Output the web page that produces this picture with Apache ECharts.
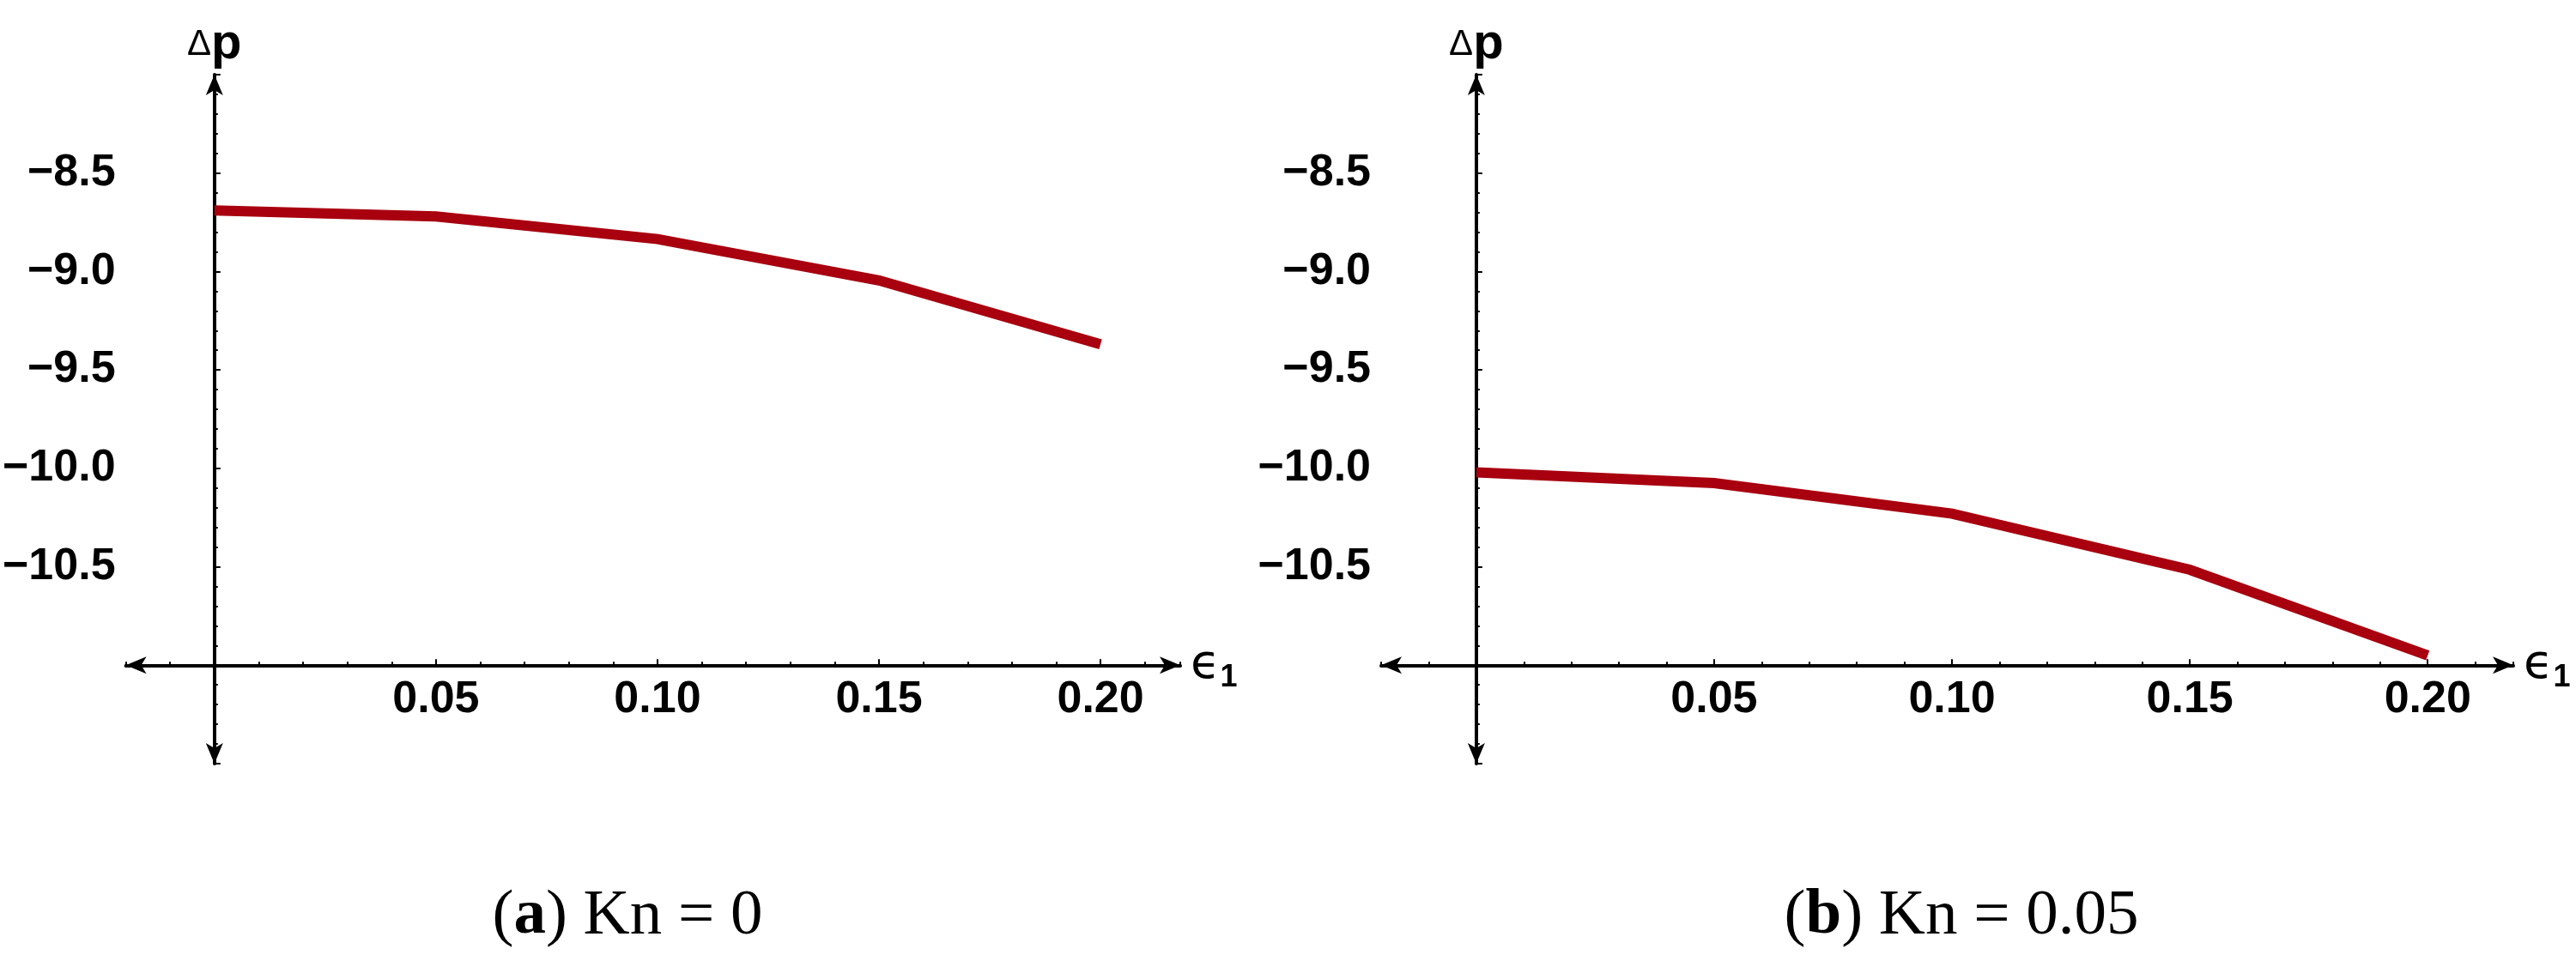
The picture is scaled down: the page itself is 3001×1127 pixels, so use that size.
<!DOCTYPE html>
<html>
<head>
<meta charset="utf-8">
<script src="https://cdn.jsdelivr.net/npm/echarts@6/dist/echarts.min.js"></script>
<style>
html,body{margin:0;padding:0;background:#fff;}
#chart{width:3001px;height:1127px;}
</style>
</head>
<body>
<div id="chart"></div>
<script>
// ---- data ----
const epsilon = [0, 0.05, 0.10, 0.15, 0.20];
const dpKn0 = [-8.69, -8.72, -8.835, -9.045, -9.37];
const dpKn005 = [-10.02, -10.075, -10.23, -10.515, -10.95];
const xTickLabels = [0.05, 0.10, 0.15, 0.20];
const yTickLabels = [-10.5, -10.0, -9.5, -9.0, -8.5];
const captions = [["a", " Kn = 0"], ["b", " Kn = 0.05"]];

// ---- axis ranges ----
const xMin = -0.02, xMax = 0.218;
const yMin = -11.5, yMax = -8.0, yCross = -11.0;

const chart = echarts.init(document.getElementById('chart'), null, {renderer: 'canvas'});

const gridTop = 87, gridH = 803, gridW = 1319;
const gridLefts = [56, 1609];
const xOffset = -gridH * (yCross - yMin) / (yMax - yMin);

const lineColor = '#A8000F';
const sansFont = '"Liberation Sans", Arial, sans-serif';

function fmtY(v) {
  const ok = yTickLabels.some(t => Math.abs(t - v) < 1e-6);
  if (!ok) return '';
  return (v < 0 ? '\u2212' : '') + Math.abs(v).toFixed(1);
}

const grids = [], xAxes = [], yAxes = [], series = [];
[dpKn0, dpKn005].forEach((vals, gi) => {
  grids.push({left: gridLefts[gi], top: gridTop, width: gridW, height: gridH, containLabel: false});
  // main x axis (line, arrows, major ticks, labels)
  xAxes.push({
    type: 'value', gridIndex: gi, position: 'bottom', offset: xOffset,
    min: xMin, max: xMax,
    axisLine: {show: true, onZero: false, symbol: ['arrow', 'arrow'], symbolSize: [15, 24],
      lineStyle: {color: '#000', width: 4}},
    axisTick: {show: true, inside: true, length: 7, customValues: xTickLabels,
      lineStyle: {color: '#000', width: 2}},
    axisLabel: {show: true, customValues: xTickLabels, formatter: v => v.toFixed(2),
      fontSize: 52, fontFamily: sansFont, fontWeight: 'bold', color: '#000', margin: 14},
    splitLine: {show: false},
    name: '{e|\u03F5}{s|1}', nameLocation: 'end', nameGap: 12,
    nameTextStyle: {
      rich: {
        e: {fontSize: 56, fontFamily: '"DejaVu Sans", sans-serif', color: '#000', lineHeight: 66, verticalAlign: 'middle'},
        s: {fontSize: 36, fontFamily: sansFont, fontWeight: 'bold', color: '#000', lineHeight: 66, verticalAlign: 'bottom'}
      }
    }
  });
  // minor x ticks
  xAxes.push({
    type: 'value', gridIndex: gi, position: 'bottom', offset: xOffset,
    min: xMin, max: xMax, interval: 0.01,
    axisLine: {show: false, onZero: false},
    axisTick: {show: true, inside: true, length: 4, lineStyle: {color: '#000', width: 2}},
    axisLabel: {show: false},
    splitLine: {show: false}
  });
  yAxes.push({
    type: 'value', gridIndex: gi,
    min: yMin, max: yMax, interval: 0.5,
    axisLine: {show: true, onZero: true, onZeroAxisIndex: gi * 2,
      symbol: ['arrow', 'arrow'], symbolSize: [15, 24],
      lineStyle: {color: '#000', width: 4}},
    axisTick: {show: true, inside: true, length: 7, lineStyle: {color: '#000', width: 2}},
    minorTick: {show: true, splitNumber: 5, length: 4, lineStyle: {color: '#000', width: 2}},
    axisLabel: {show: true, formatter: fmtY, showMinLabel: true, showMaxLabel: true,
      fontSize: 52, fontFamily: sansFont, fontWeight: 'bold', color: '#000', margin: 12},
    splitLine: {show: false},
    minorSplitLine: {show: false},
    name: '{d|\u0394}{p|p}', nameLocation: 'end', nameGap: 6,
    nameTextStyle: {
      align: 'center',
      rich: {
        d: {fontSize: 42, fontFamily: sansFont, color: '#000'},
        p: {fontSize: 58, fontFamily: sansFont, fontWeight: 'bold', color: '#000'}
      }
    }
  });
  series.push({
    type: 'line', xAxisIndex: gi * 2, yAxisIndex: gi,
    data: epsilon.map((e, i) => [e, vals[i]]),
    showSymbol: false, symbol: 'none', smooth: false,
    lineStyle: {color: lineColor, width: 12, cap: 'butt', join: 'miter'},
    silent: true, animation: false
  });
});

const captionCenters = [731, 2285];
const graphic = captions.map((c, i) => ({
  type: 'text', x: captionCenters[i], y: 1068,
  style: {
    text: '{n|(}{b|' + c[0] + '}{n|)' + c[1] + '}',
    align: 'center', verticalAlign: 'middle',
    rich: {
      n: {fontSize: 75, fontFamily: '"Liberation Serif", "Times New Roman", serif', color: '#000'},
      b: {fontSize: 75, fontFamily: '"Liberation Serif", "Times New Roman", serif', fontWeight: 'bold', color: '#000'}
    }
  }
}));

chart.setOption({
  backgroundColor: '#fff',
  animation: false,
  grid: grids, xAxis: xAxes, yAxis: yAxes, series: series,
  graphic: graphic
});
</script>
</body>
</html>
